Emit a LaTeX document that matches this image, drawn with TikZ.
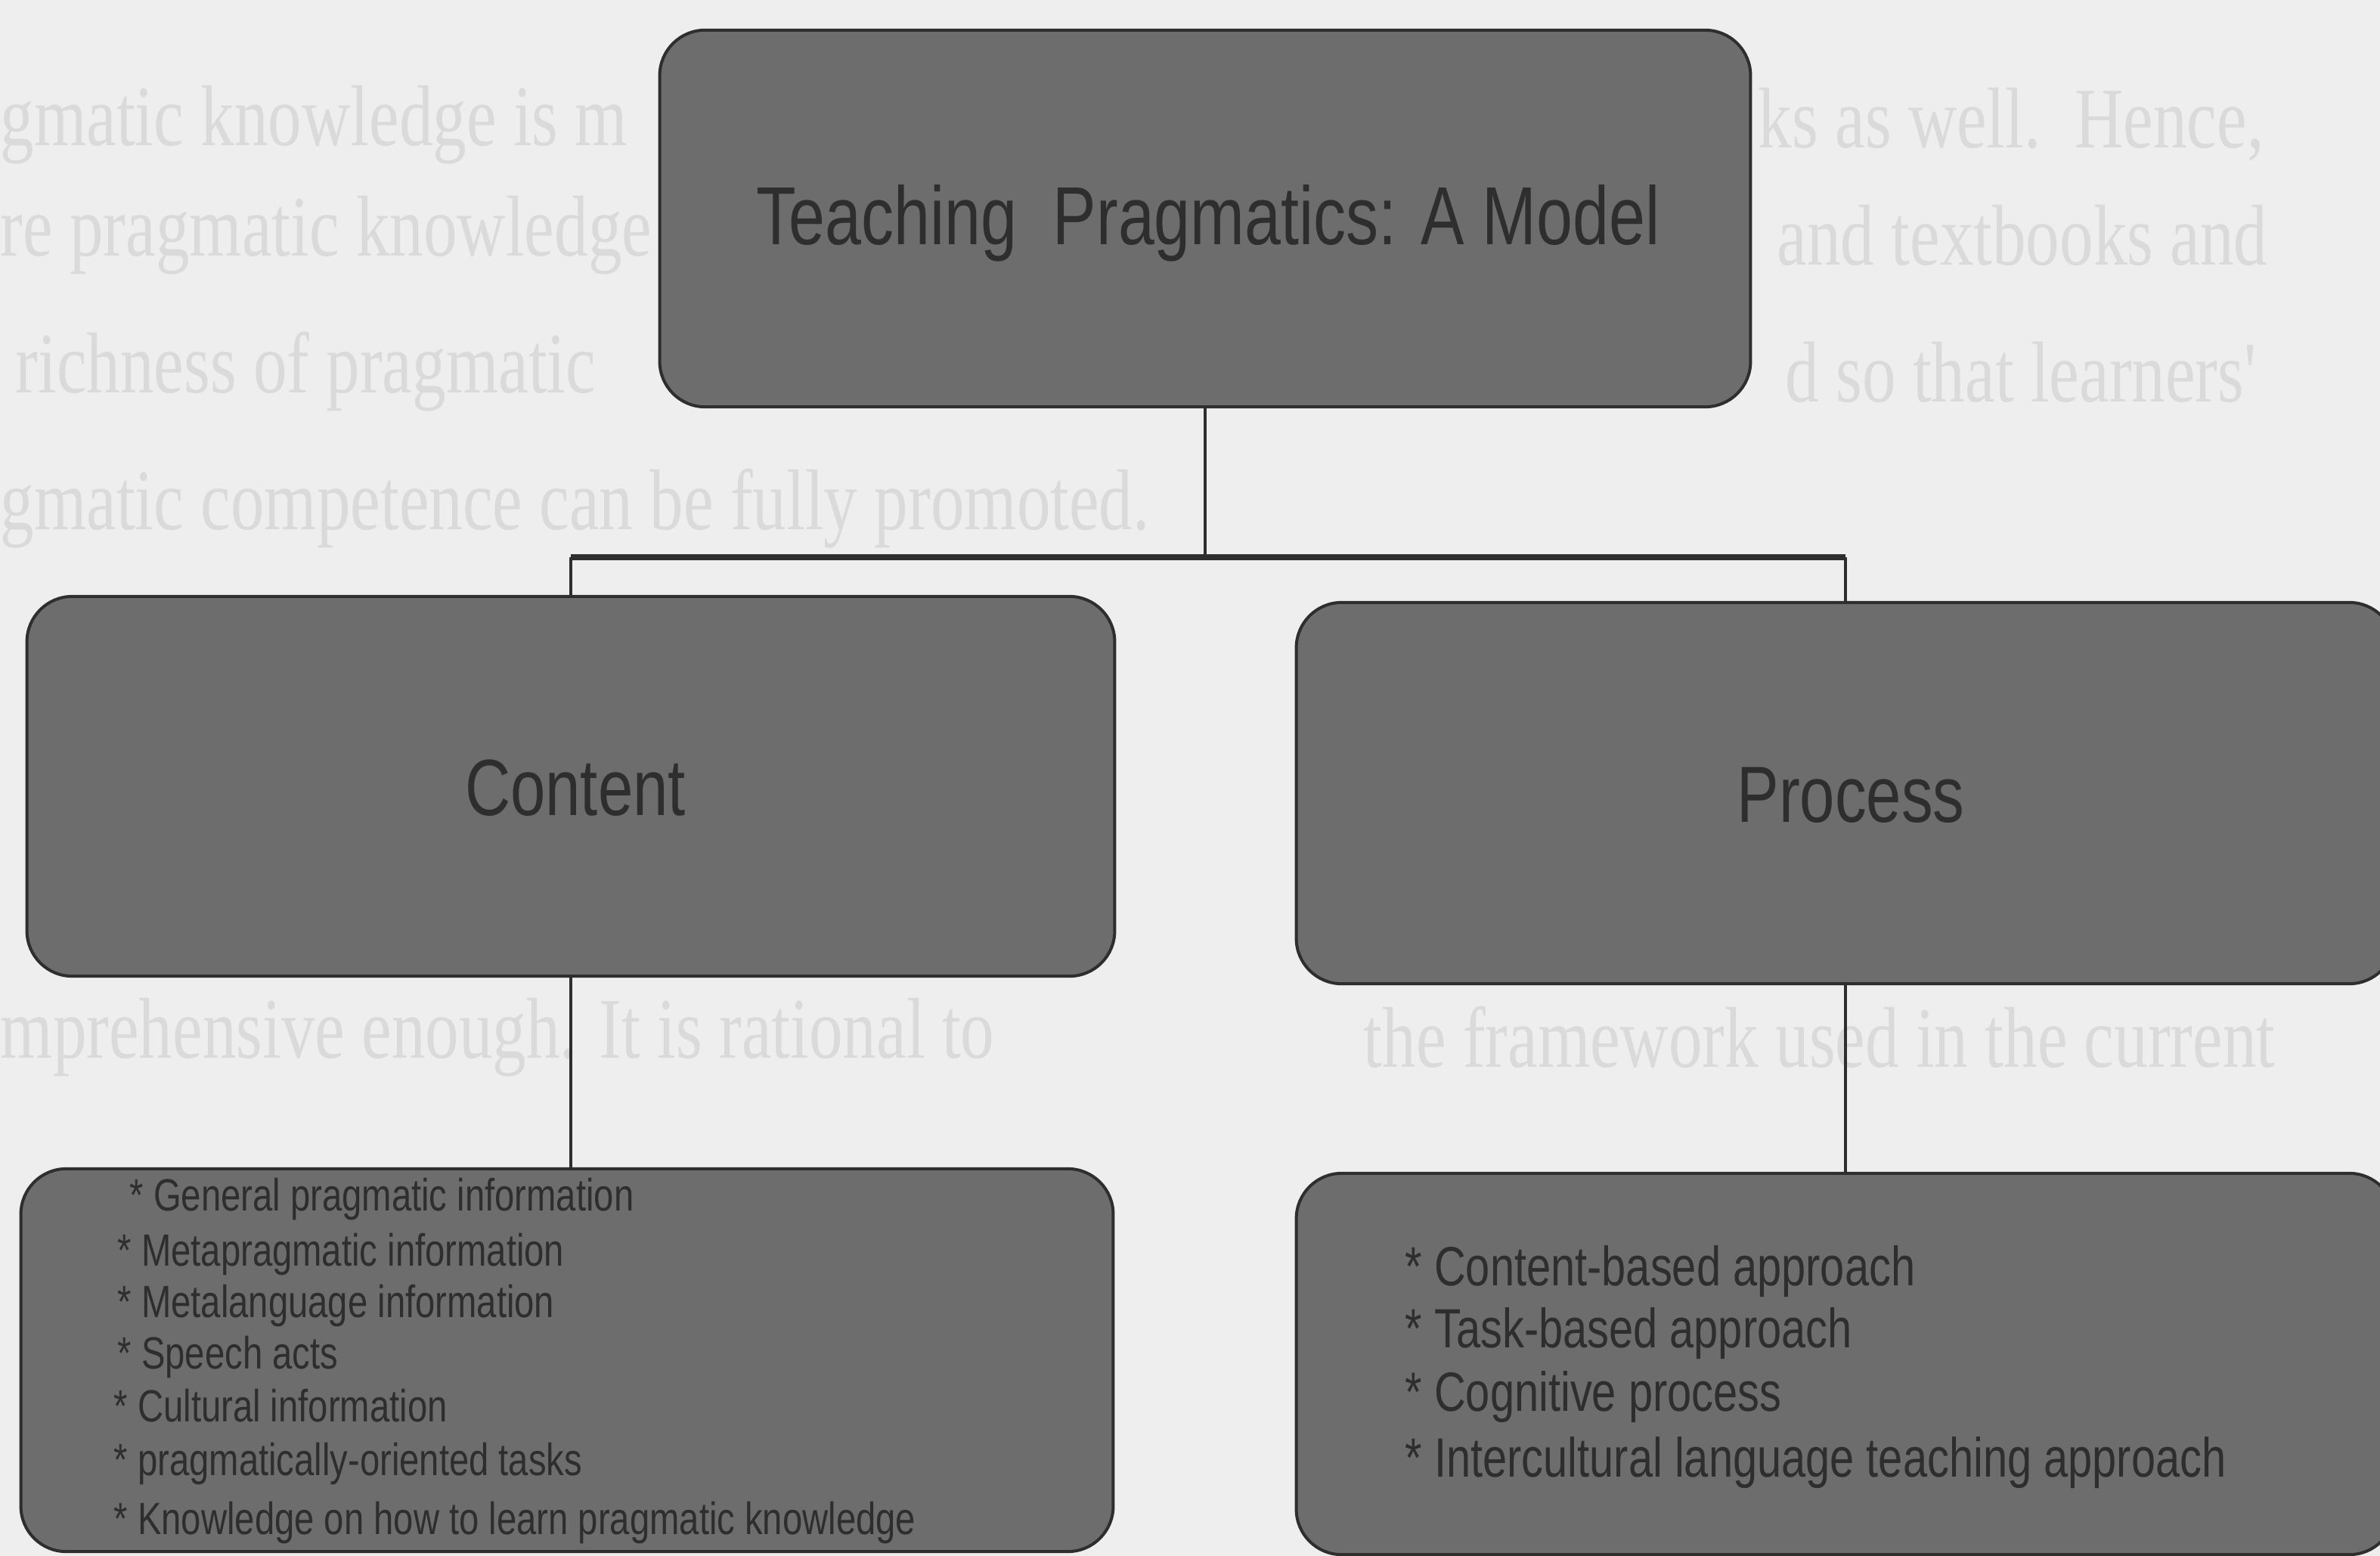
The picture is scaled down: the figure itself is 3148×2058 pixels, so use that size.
\documentclass[tikz,border=0pt]{standalone}
\usepackage{fontspec}
\setmainfont{Liberation Sans}
\newfontfamily\boxfont[FakeStretch=0.79]{Liberation Sans}
\newfontfamily\pagefont[FakeStretch=0.78]{Liberation Serif}
\definecolor{paper}{HTML}{EEEEEE}
\definecolor{bleed}{HTML}{DADADA}
\definecolor{boxfill}{HTML}{6D6D6D}
\definecolor{ink}{HTML}{2E2E2E}
\begin{document}
\begin{tikzpicture}[x=0.01cm,y=-0.01cm,
  panel/.style={draw=ink, line width=0.04cm, fill=boxfill, rounded corners=0.6cm, inner sep=0pt},
  heading/.style={font=\boxfont\fontsize{31}{36}\selectfont, text=ink, inner sep=0pt},
  subhead/.style={font=\boxfont\fontsize{30}{35}\selectfont, text=ink, inner sep=0pt},
  smallitem/.style={font=\boxfont\fontsize{17}{20}\selectfont, text=ink, inner sep=0pt, anchor=west,
    text height=0.72em, text depth=0.2em},
  bigitem/.style={font=\boxfont\fontsize{20.8}{24}\selectfont, text=ink, inner sep=0pt, anchor=west,
    text height=0.72em, text depth=0.2em},
  faint/.style={font=\pagefont\fontsize{32.5}{38}\selectfont, text=bleed, inner sep=0pt},
  link/.style={draw=ink, line width=0.04cm},
  bus/.style={draw=ink, line width=0.07cm}]
\clip (0,0) rectangle (3148,2058);
\fill[paper] (0,0) rectangle (3148,2058);

% text of the facing page showing through the paper
\node[faint, anchor=west] (pa1) at (0,165) {gmatic knowledge is m};
\node[faint, anchor=east] (pa2) at (2995,165) {ks as well.\ \ Hence,};
\node[faint, anchor=west] (pb1) at (0,311) {re pragmatic knowledge};
\node[faint, anchor=east] (pb2) at (3000,311) {and textbooks and};
\node[faint, anchor=west] (pc1) at (20,492) {richness of pragmatic};
\node[faint, anchor=east] (pc2) at (2985,492) {d so that learners'};
\node[faint, anchor=west] (pd1) at (0,673) {gmatic competence can be fully promoted.};
\node[faint, anchor=west] (pe1) at (0,1372) {mprehensive enough. It is rational to};
\node[faint, anchor=east] (pe2) at (3010,1372) {the framework used in the current};

% boxes
\node[panel, minimum width=14.42cm, minimum height=4.98cm] (title) at (1594,289) {};
\node[heading] (titletext) at (1598,295) {Teaching\ \ Pragmatics: A Model};

\node[panel, minimum width=14.38cm, minimum height=5.02cm] (content) at (755,1040) {};
\node[subhead] (contenttext) at (761,1042) {Content};

\node[panel, minimum width=14.52cm, minimum height=5.04cm] (process) at (2441,1049) {};
\node[subhead] (processtext) at (2448,1052) {Process};

\node[panel, minimum width=14.44cm, minimum height=5.06cm] (contentlist) at (750,1799) {};
\node[panel, minimum width=14.52cm, minimum height=5.04cm] (processlist) at (2441,1804) {};

% items of the content list
\node[smallitem] (c1) at (171,1592) {* General pragmatic information};
\node[smallitem] (c2) at (155,1665) {* Metapragmatic information};
\node[smallitem] (c3) at (155,1733) {* Metalanguage information};
\node[smallitem] (c4) at (155,1801) {* Speech acts};
\node[smallitem] (c5) at (150,1871) {* Cultural information};
\node[smallitem] (c6) at (150,1942) {* pragmatically-oriented tasks};
\node[smallitem] (c7) at (150,2020) {* Knowledge on how to learn pragmatic knowledge};

% items of the process list
\node[bigitem] (p1) at (1858,1691) {* Content-based approach};
\node[bigitem] (p2) at (1858,1773) {* Task-based approach};
\node[bigitem] (p3) at (1858,1857) {* Cognitive process};
\node[bigitem] (p4) at (1858,1944) {* Intercultural language teaching approach};

% tree connectors
\coordinate (busL) at (755,737);
\coordinate (busR) at (2441,737);
\draw[link] (title.south) -- (title.south |- busL);
\draw[bus] (busL) -- (busR);
\draw[link] (busL) -- (content.north);
\draw[link] (busR) -- (process.north);
\draw[link] (content.south) -- (content.south |- contentlist.north);
\draw[link] (process.south) -- (process.south |- processlist.north);
\end{tikzpicture}
\end{document}
